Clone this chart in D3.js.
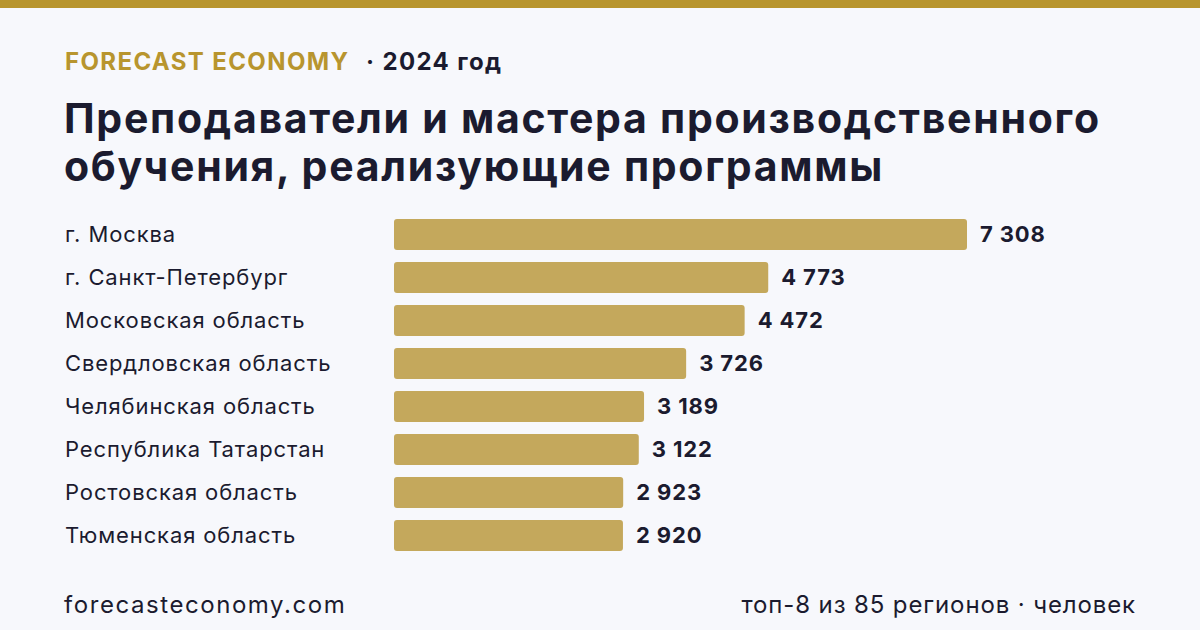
<!DOCTYPE html>
<html>
<head>
<meta charset="utf-8">
<script src="https://cdn.jsdelivr.net/npm/d3@7"></script>
<style>
  body { margin: 0; background: #f7f8fc; }
  svg { display: block; font-family: Inter, "Noto Sans", sans-serif; letter-spacing: 0.055em; }
</style>
</head>
<body>
<div id="chart"></div>
<script>
// DATA
var regions = ["г. Москва", "г. Санкт-Петербург", "Московская область", "Свердловская область",
    "Челябинская область", "Республика Татарстан", "Ростовская область", "Тюменская область"]
var values = [7308, 4773, 4472, 3726, 3189, 3122, 2923, 2920]

var svgWidth = 1200
var svgHeight = 630
var ink = "#1b1b2f"
var gold = "#b8952e"
var barColor = "#c4a85c"

var svg = d3.select("#chart").append("svg")
    .attr("width", svgWidth)
    .attr("height", svgHeight)

svg.append("rect")
    .attr("width", svgWidth).attr("height", svgHeight)
    .attr("fill", "#f7f8fc")

// top stripe
svg.append("rect")
    .attr("width", svgWidth).attr("height", 8)
    .attr("fill", gold)

// header
var head = svg.append("text")
    .attr("x", 65).attr("y", 70)
    .attr("font-size", 24).attr("font-weight", 700)
    .style("letter-spacing", "0.057em")
head.append("tspan").attr("fill", gold).text("FORECAST ECONOMY")
head.append("tspan").attr("fill", ink).attr("x", 366).text("· 2024 год")

var title = ["Преподаватели и мастера производственного", "обучения, реализующие программы"]
svg.selectAll("text.title")
    .data(title)
    .enter()
    .append("text")
    .classed("title", true)
    .attr("x", 64)
    .attr("y", (d, i) => 133 + i * 48)
    .attr("font-size", 41)
    .attr("font-weight", 700)
    .attr("fill", ink)
    .style("letter-spacing", "0.042em")
    .text(d => d)

// scales
var x = d3.scaleLinear().domain([0, d3.max(values)]).range([394, 967])
var y = d3.scaleBand().domain(regions).range([213, 557]).paddingInner(0.28).paddingOuter(0.14)

var rows = svg.selectAll("g.row")
    .data(regions)
    .enter()
    .append("g")
    .classed("row", true)

rows.append("rect")
    .attr("x", x(0))
    .attr("y", d => y(d))
    .attr("width", (d, i) => x(values[i]) - x(0))
    .attr("height", y.bandwidth())
    .attr("rx", 3)
    .attr("fill", barColor)

rows.append("text")
    .attr("x", 65)
    .attr("y", d => y(d) + y.bandwidth() / 2)
    .attr("dy", "0.35em")
    .attr("font-size", 22)
    .attr("fill", ink)
    .text(d => d)

var fmt = v => d3.format(",")(v).replace(/,/g, " ")
rows.append("text")
    .attr("x", (d, i) => x(values[i]) + 13)
    .attr("y", d => y(d) + y.bandwidth() / 2)
    .attr("dy", "0.35em")
    .attr("font-size", 22)
    .attr("font-weight", 700)
    .attr("fill", ink)
    .text((d, i) => fmt(values[i]))

// footer
svg.append("text")
    .attr("x", 64).attr("y", 613)
    .attr("font-size", 24)
    .attr("fill", ink)
    .style("letter-spacing", "0.065em")
    .text("forecasteconomy.com")

svg.append("text")
    .attr("x", 1136).attr("y", 613)
    .attr("text-anchor", "end")
    .attr("font-size", 24)
    .attr("fill", ink)
    .text("топ-8 из 85 регионов · человек")
</script>
</body>
</html>
